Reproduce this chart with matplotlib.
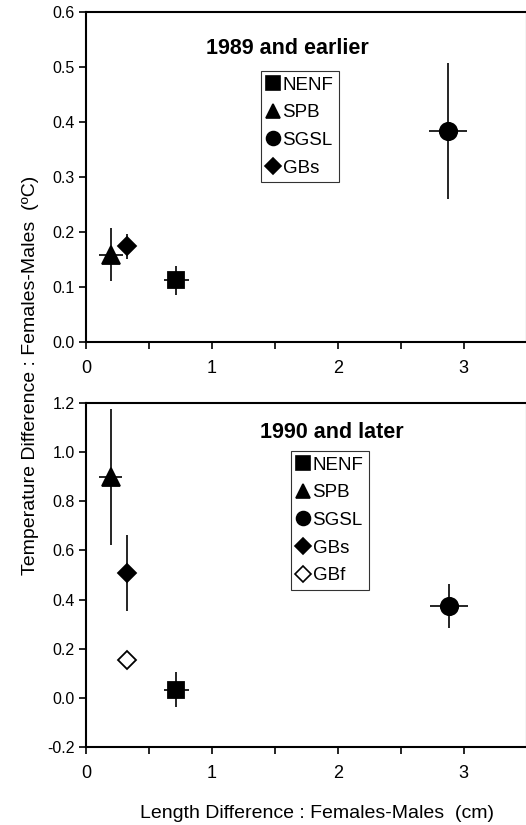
import matplotlib
matplotlib.use("Agg")
from matplotlib import pyplot as plt
import numpy as np

plt.rcParams['font.family'] = ['Liberation Sans', 'DejaVu Sans']

groups = ['NENF', 'SPB', 'SGSL', 'GBs']
markers = ['s', '^', 'o', 'D']
sizes = [12, 12.5, 12.5, 9.5]

# 1989 and earlier
early_x = [0.717, 0.198, 2.876, 0.328]
early_y = [0.112, 0.159, 0.384, 0.174]
early_xerr = [0.097, 0.093, 0.15, 0.0]
early_yerr = [0.026, 0.049, 0.124, 0.023]

# 1990 and later
late_groups = ['NENF', 'SPB', 'SGSL', 'GBs', 'GBf']
late_x = [0.717, 0.197, 2.883, 0.325, 0.325]
late_y = [0.034, 0.898, 0.374, 0.507, 0.156]
late_xerr = [0.097, 0.09, 0.153, 0.0, 0.0]
late_yerr = [0.071, 0.276, 0.088, 0.155, 0.0]

fig = plt.figure(figsize=(5.26, 8.25), dpi=100)
ax1 = fig.add_axes([0.1635, 0.5855, 0.838, 0.400])
ax2 = fig.add_axes([0.1635, 0.0945, 0.838, 0.417])


def draw(ax, names, xs, ys, xe, ye, title, tx, ty, leg_anchor):
    handles = []
    for i, name in enumerate(names):
        if name == 'GBf':
            mk, ms, fc = 'D', 9.5, 'white'
        else:
            k = groups.index(name)
            mk, ms, fc = markers[k], sizes[k], 'black'
        ax.errorbar(xs[i], ys[i], xerr=xe[i] if xe[i] > 0 else None,
                    yerr=ye[i] if ye[i] > 0 else None,
                    fmt='none', ecolor='black', elinewidth=1.2, capsize=0, zorder=2)
        h, = ax.plot(xs[i], ys[i], marker=mk, markersize=ms, color='black',
                     markerfacecolor=fc, markeredgewidth=1.3, linestyle='none',
                     zorder=3, label=name)
        handles.append(h)
    ax.text(tx, ty, title, fontsize=15.5, fontweight='bold', ha='center', va='center')
    leg = ax.legend(handles=[plt.Line2D([], [], marker=h.get_marker(),
                                        markersize=10 if h.get_marker() != 'D' else 8,
                                        color='black', markerfacecolor=h.get_markerfacecolor(),
                                        linestyle='none', markeredgewidth=1.2) for h in handles],
                    labels=names, loc='upper left', bbox_to_anchor=leg_anchor,
                    bbox_transform=fig.transFigure, frameon=True, fancybox=False,
                    edgecolor='black', fontsize=13.5, handlelength=0.7, handletextpad=0.15,
                    borderpad=0.3, labelspacing=0.56, borderaxespad=0)
    leg.get_frame().set_linewidth(0.8)

    ax.set_xlim(0, 3.5)
    ax.set_xticks(np.arange(0, 3.5, 0.5))
    ax.set_xticklabels(['0', '', '1', '', '2', '', '3'])
    ax.tick_params(axis='x', direction='out', length=5, width=1.2, labelsize=13, pad=8)
    ax.tick_params(axis='y', direction='out', length=5, width=1.2, labelsize=11.5, pad=3)
    for s in ['left', 'bottom', 'top', 'right']:
        ax.spines[s].set_linewidth(1.5)


draw(ax1, groups, early_x, early_y, early_xerr, early_yerr,
     '1989 and earlier', 1.6, 0.533, (261 / 526, 1 - 71 / 825))
ax1.set_ylim(0, 0.6)
ax1.set_yticks(np.arange(0, 0.61, 0.1))
ax1.set_yticklabels(['%.1f' % v for v in np.arange(0, 0.61, 0.1)])

draw(ax2, late_groups, late_x, late_y, late_xerr, late_yerr,
     '1990 and later', 1.95, 1.078, (291 / 526, 1 - 451 / 825))
ax2.set_ylim(-0.2, 1.2)
ax2.set_yticks(np.arange(-0.2, 1.21, 0.2))
ax2.set_yticklabels(['%.1f' % v for v in np.arange(-0.2, 1.21, 0.2)])

fig.text(31 / 526, 1 - 375 / 825, 'Temperature Difference : Females-Males  (ºC)',
         rotation=90, ha='center', va='center', fontsize=14)
fig.text(317 / 526, 1 - 813 / 825, 'Length Difference : Females-Males  (cm)',
         ha='center', va='center', fontsize=14)

fig.savefig('out.png', dpi=100)
